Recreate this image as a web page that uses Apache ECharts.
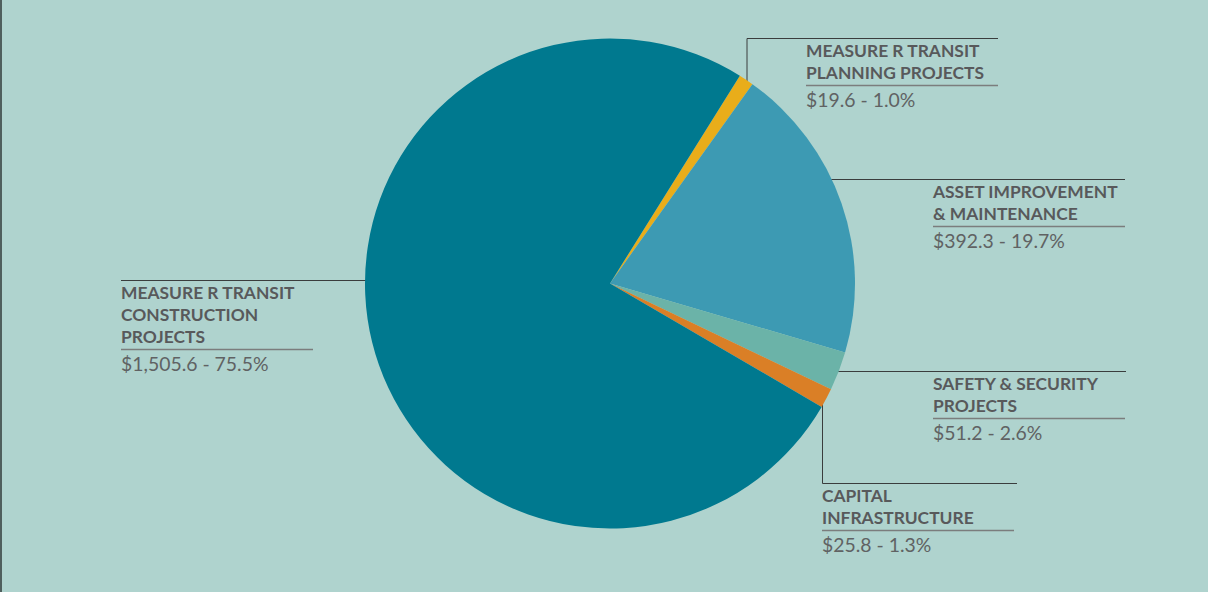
<!DOCTYPE html>
<html>
<head>
<meta charset="utf-8">
<script src="https://cdn.jsdelivr.net/npm/echarts@6/dist/echarts.min.js"></script>
<style>
html,body{margin:0;padding:0;background:#afd3ce;}
#chart{position:absolute;left:0;top:0;width:1208px;height:592px;}
#edge{position:absolute;left:0;top:0;width:2px;height:592px;background:#4f5f5d;}
</style>
</head>
<body>
<div id="chart"></div>
<div id="edge"></div>
<script>
// ---- data ----
const categories = [
  'MEASURE R TRANSIT\nPLANNING PROJECTS',
  'ASSET IMPROVEMENT\n& MAINTENANCE',
  'SAFETY & SECURITY\nPROJECTS',
  'CAPITAL\nINFRASTRUCTURE',
  'MEASURE R TRANSIT\nCONSTRUCTION\nPROJECTS'
];
const values = [19.6, 392.3, 51.2, 25.8, 1505.6];
const colors = ['#e9ad1a', '#3d9ab3', '#6bb3a8', '#da7f26', '#00798f'];

// label placement: leader line points and text anchor
const leaderLines = [
  [[747, 86], [747, 38.5], [998, 38.5]],
  [[819, 179.5], [933, 179.5], [1125, 179.5]],
  [[826, 371.5], [933, 371.5], [1126, 371.5]],
  [[822.5, 397], [822.5, 483.5], [1017, 483.5]],
  [[375, 280.5], [250, 280.5], [121, 280.5]]
];
const labelAnchors = [[806, 39], [933, 180], [933, 372], [822, 484], [121, 281]];

const total = values.reduce((a, b) => a + b, 0);
function fmtMoney(v) {
  return '$' + v.toLocaleString('en-US', {minimumFractionDigits: 1, maximumFractionDigits: 1});
}

const chart = echarts.init(document.getElementById('chart'), null, {renderer: 'svg'});
chart.setOption({
  backgroundColor: '#afd3ce',
  animation: false,
  series: [{
    type: 'pie',
    center: [610, 283.5],
    radius: 245,
    startAngle: 58,
    clockwise: true,
    avoidLabelOverlap: false,
    silent: true,
    data: categories.map((c, i) => ({
      name: c, value: values[i], itemStyle: {color: colors[i]}
    })),
    label: {
      show: true,
      position: 'outside',
      formatter: function (p) {
        const lines = p.name.split('\n').map(s => '{t|' + s + '}');
        const pct = (p.value / total * 100).toFixed(1);
        return lines.join('\n') + '\n{u| }\n{v|' + fmtMoney(p.value) + ' - ' + pct + '%}';
      },
      rich: {
        t: {fontFamily: 'Lato', fontWeight: 'bold', fontSize: 17.4, lineHeight: 22, color: '#58595b'},
        u: {width: 192, height: 1.5, lineHeight: 5, fontSize: 1, backgroundColor: '#7b7d7d'},
        v: {fontFamily: 'Lato', fontSize: 19.4, lineHeight: 22, color: '#606263'}
      }
    },
    labelLine: {
      show: true,
      lineStyle: {color: '#3a3d3d', width: 1}
    },
    labelLayout: function (params) {
      const i = params.dataIndex;
      return {
        x: labelAnchors[i][0],
        y: labelAnchors[i][1],
        align: 'left',
        verticalAlign: 'top',
        labelLinePoints: leaderLines[i]
      };
    }
  }]
});
</script>
</body>
</html>
